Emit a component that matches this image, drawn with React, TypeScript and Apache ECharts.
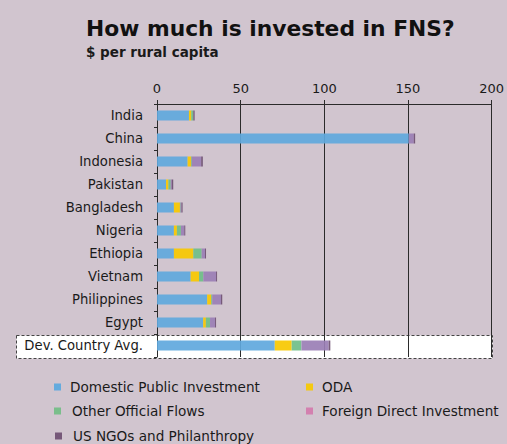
import React, { useEffect, useRef } from "react";
import * as echarts from "echarts";

const categories = [
  "India",
  "China",
  "Indonesia",
  "Pakistan",
  "Bangladesh",
  "Nigeria",
  "Ethiopia",
  "Vietnam",
  "Philippines",
  "Egypt",
  "Dev. Country Avg.",
];

const domesticPublic = [19.1, 150.5, 18.3, 5.4, 10.1, 10.1, 10.1, 20.1, 30.0, 27.6, 70.4];
const oda = [1.4, 0, 2.0, 1.4, 3.6, 1.8, 11.6, 5.0, 2.4, 1.6, 10.1];
const otherOfficial = [1.2, 0, 0.5, 1.4, 0.4, 2.4, 5.0, 2.6, 0.6, 2.5, 5.8];
const fdi = [0, 3.0, 5.6, 0.6, 0.5, 2.0, 2.0, 7.6, 5.2, 3.0, 16.3];
const usNgos = [0.8, 0.8, 1.0, 0.9, 0.7, 0.6, 0.6, 0.6, 0.8, 0.6, 1.0];

const xTicks = { min: 0, max: 200, interval: 50 };

const seriesNames = [
  "Domestic Public Investment",
  "ODA",
  "Other Official Flows",
  "Foreign Direct Investment",
  "US NGOs and Philanthropy",
];
const barColors = ["#5fa8dd", "#f7c800", "#6fbe88", "#9a7eb5", "#6e4f72"];
const legendColors = ["#5aa8df", "#f6c900", "#72bd86", "#d37aac", "#6e4e72"];

const FONT = "'DejaVu Sans', sans-serif";
const BG = "#d1c5cf";

export default function App() {
  const ref = useRef<HTMLDivElement>(null);

  useEffect(() => {
    if (!ref.current) return;
    const chart = echarts.init(ref.current, undefined, { renderer: "svg" });
    const values = [domesticPublic, oda, otherOfficial, fdi, usNgos];

    const legendPos = [
      { left: 49, top: 375, gap: 4 },
      { left: 301, top: 375, gap: 4 },
      { left: 49, top: 399, gap: 6 },
      { left: 301, top: 399, gap: 4 },
      { left: 50, top: 424, gap: 6 },
    ];

    chart.setOption({
      animation: false,
      backgroundColor: BG,
      textStyle: { fontFamily: FONT },
      title: {
        text: "How much is invested in FNS?",
        subtext: "$ per rural capita",
        left: 81,
        top: 12,
        itemGap: 6,
        textStyle: { fontFamily: FONT, fontSize: 21.8, fontWeight: "bold", color: "#111" },
        subtextStyle: { fontFamily: FONT, fontSize: 13.5, fontWeight: "bold", color: "#1a1a1a" },
      },
      legend: seriesNames.map((n, i) => ({
        data: [{ name: n, itemStyle: { color: legendColors[i] } }],
        left: legendPos[i].left,
        top: legendPos[i].top,
        icon: "rect",
        itemWidth: 7,
        itemHeight: 7,
        selectedMode: false,
        textStyle: {
          fontFamily: FONT,
          fontSize: 13.6,
          color: "#1a1a1a",
          padding: [0, 0, 0, legendPos[i].gap],
        },
      })),
      grid: { left: 157, right: 15, top: 104, bottom: 87, containLabel: false },
      xAxis: {
        type: "value",
        position: "top",
        min: xTicks.min,
        max: xTicks.max,
        interval: xTicks.interval,
        z: 0,
        axisLine: { show: true, lineStyle: { color: "#2b2b2b", width: 1 } },
        axisTick: { show: true, length: 4, lineStyle: { color: "#2b2b2b" } },
        splitLine: { show: true, lineStyle: { color: "#2b2b2b", width: 1 } },
        axisLabel: { fontFamily: FONT, fontSize: 13, color: "#1a1a1a", margin: 9 },
      },
      yAxis: {
        type: "category",
        data: categories,
        inverse: true,
        z: 5,
        axisLine: { show: true, lineStyle: { color: "#2b2b2b", width: 1 } },
        axisTick: { show: true, length: 3, lineStyle: { color: "#2b2b2b" } },
        axisLabel: { fontFamily: FONT, fontSize: 13.2, color: "#1a1a1a", margin: 14 },
      },
      graphic: [
        {
          type: "rect",
          z: -10,
          zlevel: 0,
          shape: { x: 16.5, y: 335.5, width: 476, height: 23 },
          style: { fill: "#ffffff", stroke: "#444", lineWidth: 1, lineDash: [3, 2] },
        },
      ],
      series: seriesNames.map((n, i) => ({
        name: n,
        type: "bar",
        stack: "total",
        barWidth: 10,
        z: 6,
        itemStyle: { color: barColors[i], opacity: 0.92 },
        data: values[i],
      })),
    });
    return () => chart.dispose();
  }, []);

  return (
    <div
      ref={ref}
      style={{ position: "absolute", left: 0, top: 0, width: 507, height: 444 }}
    />
  );
}
